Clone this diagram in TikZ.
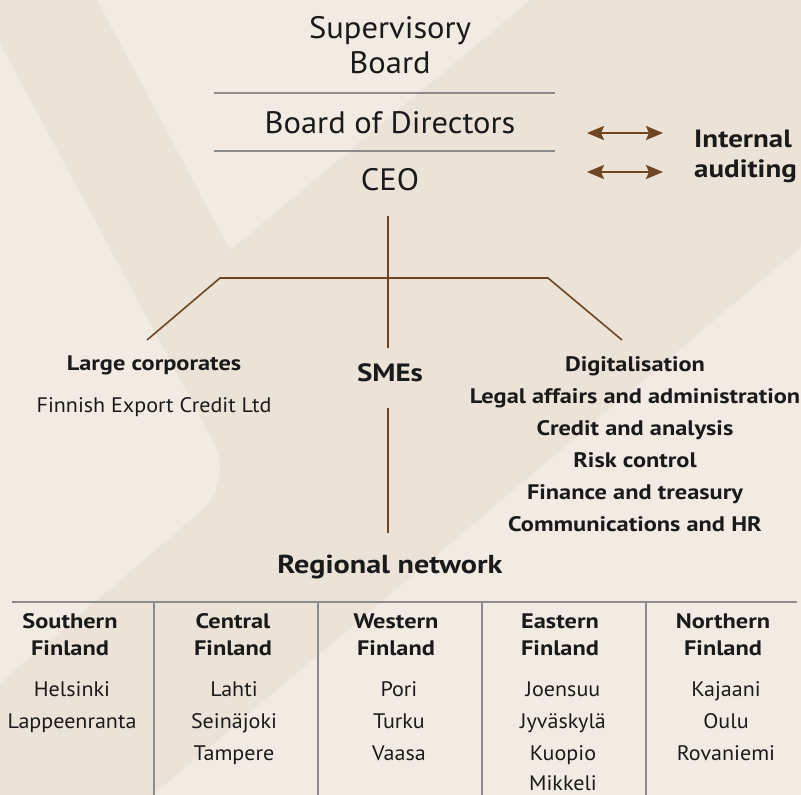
\documentclass[tikz,border=0pt]{standalone}
\usepackage{fontspec}
\setmainfont{PT Sans}[UprightFeatures={FakeStretch=1.05}, BoldFeatures={FakeStretch=1.16}]
\usetikzlibrary{arrows.meta}
\definecolor{bglight}{HTML}{F2EBE3}
\definecolor{bgdark}{HTML}{ECE3D8}
\definecolor{brn}{HTML}{6F4522}
\definecolor{txt}{HTML}{1A1A1A}
\definecolor{rulec}{HTML}{8C8C8C}
\begin{document}
\begin{tikzpicture}[x=1pt,y=-1pt,
  every node/.style={inner sep=0pt, text=txt},
  ttl/.style={font=\fontsize{31}{36}\selectfont, anchor=base},
  aud/.style={font=\bfseries\fontsize{25}{30}\selectfont, anchor=base west},
  unit/.style={font=\bfseries\fontsize{21}{25}\selectfont, anchor=base},
  sme/.style={font=\bfseries\fontsize{25}{30}\selectfont, anchor=base},
  plain/.style={font=\fontsize{21}{25}\selectfont, anchor=base},
  rnet/.style={font=\bfseries\fontsize{26}{30}\selectfont, anchor=base},
  conn/.style={draw=brn, line width=1.6pt},
  dbl/.style={draw=brn, line width=2.2pt, {Stealth[length=17pt,width=14pt,inset=3pt]}-{Stealth[length=17pt,width=14pt,inset=3pt]}},
  sepline/.style={draw=rulec, line width=1.2pt}]
\useasboundingbox (0,0) rectangle (801,795);
% background
\fill[bglight] (0,0) rectangle (801,795);
\fill[bgdark] (0,0) -- (97,0) -- (230,250) -- (530,0) -- (801,0) -- (801,247) -- (153,795) -- (0,795) -- (0,683) [rounded corners=45pt] -- (235,482) [sharp corners] -- (0,43) -- cycle;
% top
\node[ttl] (sup1) at (390,38) {Supervisory};
\node[ttl] (sup2) at (390,73) {Board};
\node[ttl] (bod) at (390,133) {Board of Directors};
\node[ttl] (ceo) at (390,190) {CEO};
\coordinate (s1l) at (214,93); \coordinate (s1r) at (555,93);
\coordinate (s2l) at (214,151); \coordinate (s2r) at (555,151);
\draw[sepline] (s1l) -- (s1r);
\draw[sepline] (s2l) -- (s2r);
% internal auditing
\node[aud] (ia1) at (694,147) {Internal};
\node[aud] (ia2) at (694,177) {auditing};
\coordinate (a1l) at (587,133); \coordinate (a1r) at (663,133);
\coordinate (a2l) at (587,172); \coordinate (a2r) at (663,172);
\draw[dbl] (a1l) -- (a1r);
\draw[dbl] (a2l) -- (a2r);
% tree
\coordinate (ceoS) at (388,216);
\coordinate (hubL) at (220,278);
\coordinate (hubR) at (548,278);
\coordinate (lcT) at (147,340);
\coordinate (dgT) at (622,340);
\coordinate (smT) at (388,348);
\coordinate (smB) at (388,408);
\coordinate (rnT) at (388,533);
\draw[conn] (ceoS) -- (smT);
\draw[conn] (lcT) -- (hubL) -- (hubR) -- (dgT);
\draw[conn] (smB) -- (rnT);
% units
\node[unit] (lc) at (154,370) {Large corporates};
\node[plain] (fec) at (154,412) {Finnish Export Credit Ltd};
\node[sme] (sme) at (390,381) {SMEs};
\node[unit] (d1) at (635,371) {Digitalisation};
\node[unit] (d2) at (635,403) {Legal affairs and administration};
\node[unit] (d3) at (635,435) {Credit and analysis};
\node[unit] (d4) at (635,467) {Risk control};
\node[unit] (d5) at (635,499) {Finance and treasury};
\node[unit] (d6) at (635,531) {Communications and HR};
\node[rnet] (rn) at (390,573) {Regional network};
% table
\coordinate (t0) at (12,602); \coordinate (t5) at (797,602);
\draw[sepline] (t0) -- (t5);
\foreach \xx/\nm in {154/v1,318/v2,482/v3,646/v4}{
  \coordinate (\nm t) at (\xx,602); \coordinate (\nm b) at (\xx,795);
  \draw[sepline] (\nm t) -- (\nm b);
}
% regions
\node[unit] (h1a) at (70,628) {Southern};
\node[unit] (h1b) at (70,655) {Finland};
\node[plain] (c11) at (72,696) {Helsinki};
\node[plain] (c12) at (72,728) {Lappeenranta};
\node[unit] (h2a) at (233,628) {Central};
\node[unit] (h2b) at (233,655) {Finland};
\node[plain] (c21) at (234,696) {Lahti};
\node[plain] (c22) at (234,728) {Seinäjoki};
\node[plain] (c23) at (234,760) {Tampere};
\node[unit] (h3a) at (396,628) {Western};
\node[unit] (h3b) at (396,655) {Finland};
\node[plain] (c31) at (399,696) {Pori};
\node[plain] (c32) at (399,728) {Turku};
\node[plain] (c33) at (399,760) {Vaasa};
\node[unit] (h4a) at (560,628) {Eastern};
\node[unit] (h4b) at (560,655) {Finland};
\node[plain] (c41) at (563,696) {Joensuu};
\node[plain] (c42) at (563,728) {Jyväskylä};
\node[plain] (c43) at (563,760) {Kuopio};
\node[plain] (c44) at (563,790) {Mikkeli};
\node[unit] (h5a) at (723,628) {Northern};
\node[unit] (h5b) at (723,655) {Finland};
\node[plain] (c51) at (726,696) {Kajaani};
\node[plain] (c52) at (726,728) {Oulu};
\node[plain] (c53) at (726,760) {Rovaniemi};
\end{tikzpicture}
\end{document}
